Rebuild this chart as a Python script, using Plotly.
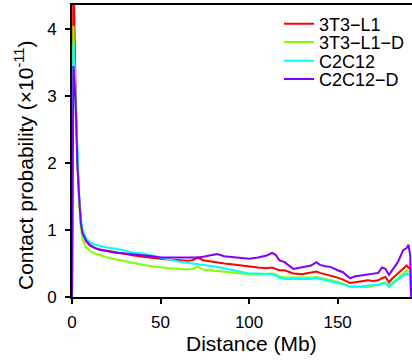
import plotly.graph_objects as go

distance_mb = [0, 0.8, 2, 3, 4, 5, 6, 8, 10, 13, 16, 20, 25, 30, 35, 40, 45, 50, 55, 60,
               65, 68, 71, 74, 78, 82, 86, 90, 95, 100, 105, 110, 113, 115, 117, 120, 125,
               130, 135, 138, 140, 143, 146, 150, 153, 157, 160, 163, 167, 170, 173, 175,
               177, 179, 181, 184, 187, 189, 190, 191, 191.5]

y_3t3_l1 = [0, 5.0, 3.1, 2.05, 1.5, 1.12, 0.95, 0.83, 0.77, 0.73, 0.71, 0.69, 0.66, 0.64, 0.62,
            0.60, 0.58, 0.57, 0.56, 0.55, 0.54, 0.55, 0.59, 0.55, 0.53, 0.51, 0.50, 0.49, 0.47,
            0.45, 0.44, 0.43, 0.44, 0.42, 0.40, 0.40, 0.35, 0.34, 0.36, 0.38, 0.36, 0.34, 0.31,
            0.29, 0.26, 0.21, 0.22, 0.23, 0.25, 0.24, 0.25, 0.28, 0.30, 0.22, 0.28, 0.35, 0.42,
            0.47, 0.44, 0.42, 0]

y_3t3_l1_d = [0, 4.05, 2.9, 1.95, 1.4, 1.02, 0.86, 0.74, 0.69, 0.65, 0.62, 0.59, 0.56, 0.53,
              0.50, 0.48, 0.46, 0.44, 0.43, 0.42, 0.41, 0.42, 0.45, 0.41, 0.40, 0.39, 0.38,
              0.37, 0.35, 0.34, 0.34, 0.35, 0.35, 0.34, 0.31, 0.29, 0.29, 0.28, 0.29, 0.30,
              0.29, 0.27, 0.25, 0.23, 0.20, 0.16, 0.16, 0.15, 0.15, 0.17, 0.19, 0.20, 0.22,
              0.17, 0.22, 0.28, 0.35, 0.40, 0.38, 0.36, 0]

y_c2c12 = [0, 3.8, 3.0, 2.1, 1.55, 1.18, 1.0, 0.88, 0.82, 0.78, 0.76, 0.74, 0.72, 0.69, 0.66,
           0.65, 0.62, 0.58, 0.55, 0.53, 0.51, 0.50, 0.49, 0.48, 0.47, 0.45, 0.43, 0.41, 0.38,
           0.35, 0.35, 0.34, 0.34, 0.32, 0.29, 0.27, 0.27, 0.26, 0.27, 0.28, 0.27, 0.25, 0.23,
           0.21, 0.19, 0.15, 0.15, 0.16, 0.18, 0.18, 0.18, 0.19, 0.21, 0.15, 0.20, 0.26, 0.32,
           0.35, 0.33, 0.32, 0]

y_c2c12_d = [0, 3.45, 2.95, 2.0, 1.5, 1.1, 0.95, 0.84, 0.78, 0.73, 0.70, 0.68, 0.66, 0.65,
             0.64, 0.63, 0.61, 0.59, 0.59, 0.58, 0.58, 0.59, 0.59, 0.60, 0.62, 0.64, 0.61,
             0.60, 0.58, 0.57, 0.59, 0.62, 0.66, 0.63, 0.55, 0.52, 0.42, 0.44, 0.47, 0.52,
             0.48, 0.46, 0.45, 0.40, 0.37, 0.28, 0.31, 0.32, 0.34, 0.35, 0.36, 0.44, 0.42,
             0.33, 0.40, 0.52, 0.70, 0.73, 0.78, 0.62, 0]

series_names = ["3T3\u2212L1", "3T3\u2212L1\u2212D", "C2C12", "C2C12\u2212D"]
series_values = [y_3t3_l1, y_3t3_l1_d, y_c2c12, y_c2c12_d]
series_colors = ["#ff0000", "#80ff00", "#00ffff", "#8000ff"]

x_ticks = [0, 50, 100, 150]
y_ticks = [0, 1, 2, 3, 4]

FONT = "Liberation Sans, Arial, sans-serif"
W, H = 412, 363
L, R, T, B = 72, 0, 5, 66
pw, ph = W - L - R, H - T - B

def px_x(p):
    return (p - L) / pw

def px_y(p):
    return (H - B - p) / ph

legend_rows = [24, 42.3, 61, 79.3]
legend_keys = ["legend", "legend2", "legend3", "legend4"]

fig = go.Figure()
for name, vals, col, key in zip(series_names, series_values, series_colors, legend_keys):
    fig.add_trace(go.Scatter(x=distance_mb, y=vals, mode="lines", name=name,
                             line=dict(color=col, width=2), legend=key))

layout_legends = {}
for key, row in zip(legend_keys, legend_rows):
    layout_legends[key] = dict(x=px_x(279), xanchor="left", y=px_y(row), yanchor="middle",
                               bgcolor="rgba(0,0,0,0)", borderwidth=0,
                               font=dict(family=FONT, size=18, color="black"))

fig.update_layout(
    width=W, height=H,
    margin=dict(l=L, r=R, t=T, b=B, pad=0),
    paper_bgcolor="white", plot_bgcolor="white",
    font=dict(family=FONT, color="black"),
    showlegend=True,
    **layout_legends,
    xaxis=dict(range=[0, 192], tickvals=x_ticks, ticks="outside", ticklen=5, tickwidth=2,
               tickcolor="black", showline=True, linecolor="black", linewidth=2, mirror=True,
               showgrid=False, zeroline=False, tickfont=dict(family=FONT, size=17),
               ticklabelstandoff=4),
    yaxis=dict(range=[0, 4.36], tickvals=y_ticks, ticks="outside", ticklen=5, tickwidth=2,
               tickcolor="black", showline=True, linecolor="black", linewidth=2,
               showgrid=False, zeroline=False, tickfont=dict(family=FONT, size=17),
               ticklabelstandoff=5),
    annotations=[
        dict(text="Distance (Mb)", xref="paper", yref="paper", x=px_x(251), y=px_y(343),
             xanchor="center", yanchor="middle", showarrow=False,
             font=dict(family=FONT, size=21, color="black")),
        dict(text="Contact probability (\u00d710<sup>-11</sup>)", xref="paper", yref="paper",
             x=px_x(24), y=px_y(165), xanchor="center", yanchor="middle", textangle=-90,
             showarrow=False, font=dict(family=FONT, size=21, color="black")),
    ],
)

fig.write_html("out.html",
               config={"displayModeBar": False},
               post_script="document.body.style.margin='0px';document.body.style.overflow='hidden';")
